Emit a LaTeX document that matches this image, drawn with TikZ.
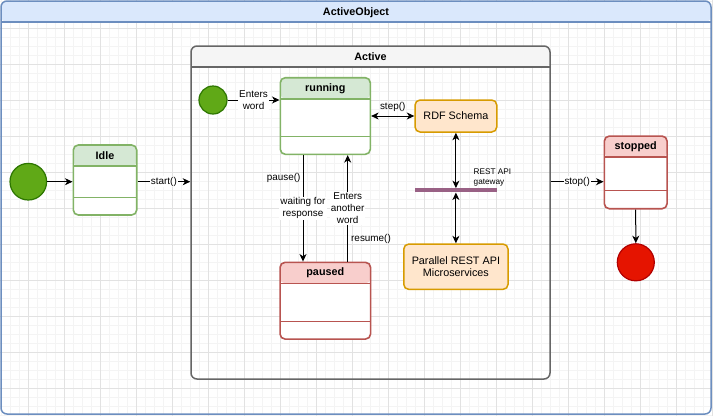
\documentclass[tikz,border=0pt]{standalone}
\usepackage{fontspec}
\setmainfont{Liberation Sans}
\usepackage{tikz}
\usetikzlibrary{arrows.meta}

\definecolor{blueFill}{HTML}{DAE8FC}
\definecolor{blueLine}{HTML}{6C8EBF}
\definecolor{grayFill}{HTML}{F5F5F5}
\definecolor{grayLine}{HTML}{666666}
\definecolor{greenFill}{HTML}{D5E8D4}
\definecolor{greenLine}{HTML}{82B366}
\definecolor{redFill}{HTML}{F8CECC}
\definecolor{redLine}{HTML}{B85450}
\definecolor{orangeFill}{HTML}{FFE6CC}
\definecolor{orangeLine}{HTML}{D79B00}
\definecolor{startFill}{HTML}{60A917}
\definecolor{startLine}{HTML}{2D7600}
\definecolor{endFill}{HTML}{E51400}
\definecolor{endLine}{HTML}{B20000}
\definecolor{barPurple}{HTML}{996185}
\definecolor{gridMajor}{HTML}{E2E2E2}
\definecolor{gridMinor}{HTML}{F4F4F4}

\begin{document}
\begin{tikzpicture}[x=1pt, y=-1pt,
    >={Stealth[length=7.5pt,width=7pt,inset=2.2pt]},
    container/.style 2 args={draw=#1, line width=1.5pt, rounded corners=6pt, inner sep=0pt,
        path picture={
            \fill[#2] (path picture bounding box.north west) rectangle ([yshift=-21pt]path picture bounding box.north east);
            \draw[#1, line width=1.5pt] ([yshift=-21pt]path picture bounding box.north west) -- ([yshift=-21pt]path picture bounding box.north east);
        }},
    state/.style 2 args={draw=#1, line width=1.6pt, fill=white, rounded corners=5pt, inner sep=0pt,
        path picture={
            \fill[#2] (path picture bounding box.north west) rectangle ([yshift=-21pt]path picture bounding box.north east);
            \draw[#1, line width=1.6pt] ([yshift=-21pt]path picture bounding box.north west) -- ([yshift=-21pt]path picture bounding box.north east);
            \draw[#1, line width=0.8pt] ([yshift=18pt]path picture bounding box.south west) -- ([yshift=18pt]path picture bounding box.south east);
        }},
    title/.style={font=\fontsize{10.8}{12}\selectfont\bfseries},
    procbox/.style={draw=orangeLine, fill=orangeFill, line width=1.5pt, rounded corners=5pt,
        align=center, font=\fontsize{10.8}{12.7}\selectfont},
    dot/.style 2 args={circle, draw=#1, fill=#2, line width=1.2pt, inner sep=0pt},
    edgelbl/.style={font=\fontsize{9.9}{12}\selectfont, fill=white, inner sep=1pt, align=center},
    plainlbl/.style={font=\fontsize{9.9}{12}\selectfont, inner sep=1pt},
    link/.style={line width=1pt}]

    \useasboundingbox (0,0) rectangle (713,416);
    \fill[white] (0,0) rectangle (713,416);

    % Grid
    \foreach \g in {1.3,10.3,...,713} {
        \draw[gridMinor, line width=0.6pt] (\g,0) -- (\g,416);
    }
    \foreach \g in {1.3,10.3,...,416} {
        \draw[gridMinor, line width=0.6pt] (0,\g) -- (713,\g);
    }
    \foreach \g in {28.3,64.3,...,713} {
        \draw[gridMajor, line width=0.8pt] (\g,0) -- (\g,416);
    }
    \foreach \g in {28.3,64.3,...,416} {
        \draw[gridMajor, line width=0.8pt] (0,\g) -- (713,\g);
    }

    % Containers
    \node[container={blueLine}{blueFill}, minimum width=710pt, minimum height=413pt] (outer) at (356,207.5) {};
    \node[title] at ([yshift=-12pt]outer.north) {ActiveObject};
    \node[container={grayLine}{grayFill}, minimum width=359pt, minimum height=333pt] (active) at (370.5,212.5) {};
    \node[title] at ([yshift=-11.5pt]active.north) {Active};

    % States
    \node[dot={startLine}{startFill}, minimum size=36.6pt] (init) at (28.3,181.7) {};
    \node[state={greenLine}{greenFill}, minimum width=63.4pt, minimum height=70pt] (idle) at (105,180) {};
    \node[title] at ([yshift=-11.5pt]idle.north) {Idle};

    \node[dot={startLine}{startFill}, minimum size=28pt] (start2) at (213,100) {};
    \node[state={greenLine}{greenFill}, minimum width=90pt, minimum height=76.6pt] (running) at (325.3,116) {};
    \node[title] at ([yshift=-11.5pt]running.north) {running};

    \node[state={redLine}{redFill}, minimum width=90.5pt, minimum height=76.7pt] (paused) at (325.3,300.7) {};
    \node[title] at ([yshift=-11.5pt]paused.north) {paused};

    \node[state={redLine}{redFill}, minimum width=62.7pt, minimum height=72.7pt] (stopped) at (635.7,172.4) {};
    \node[title] at ([yshift=-11.5pt]stopped.north) {stopped};
    \node[dot={endLine}{endFill}, minimum size=37pt] (final) at (635.8,262.3) {};

    % Services
    \node[procbox, minimum width=81.7pt, minimum height=32pt] (rdf) at (455.9,116) {RDF Schema};
    \node[fill=barPurple, minimum width=81.7pt, minimum height=4pt, inner sep=0pt] (gw) at (455.9,190.3) {};
    \node[font=\fontsize{8.2}{10}\selectfont, align=left, anchor=west, inner sep=0pt] (gwlbl) at (473.5,177.3) {REST API\\gateway};
    \node[procbox, minimum width=104.3pt, minimum height=45.3pt] (micro) at (455.9,266.7) {Parallel REST API\\Microservices};

    % Transitions
    \draw[link, ->] (init) -- (idle.west |- init);
    \draw[link, ->] (idle.east |- init) -- node[edgelbl] {start()} (active.west |- init);
    \draw[link, ->] (start2) -- node[edgelbl] {Enters\\word} (running.west |- start2);
    \draw[link, <->] (running.east) -- node[plainlbl, above=2.5pt] {step()} (rdf.west);
    \draw[link, <->] (rdf.south) -- (gw.north);
    \draw[link, <->] (gw.south) -- (micro.north);
    \draw[link, ->] ([xshift=-22.3pt]running.south) -- node[plainlbl, pos=0.21, left=1pt] {pause()}
        node[edgelbl, pos=0.5] {waiting for\\response} ([xshift=-22.3pt]paused.north);
    \draw[link, ->] ([xshift=22.4pt]paused.north) -- node[plainlbl, pos=0.21, right=2pt] {resume()}
        node[edgelbl, pos=0.5] {Enters\\another\\word} ([xshift=22.4pt]running.south);
    \draw[link, ->] (active.east |- init) -- node[edgelbl] {stop()} (stopped.west |- init);
    \draw[link, ->] (stopped.south) -- (final.north);
\end{tikzpicture}
\end{document}
